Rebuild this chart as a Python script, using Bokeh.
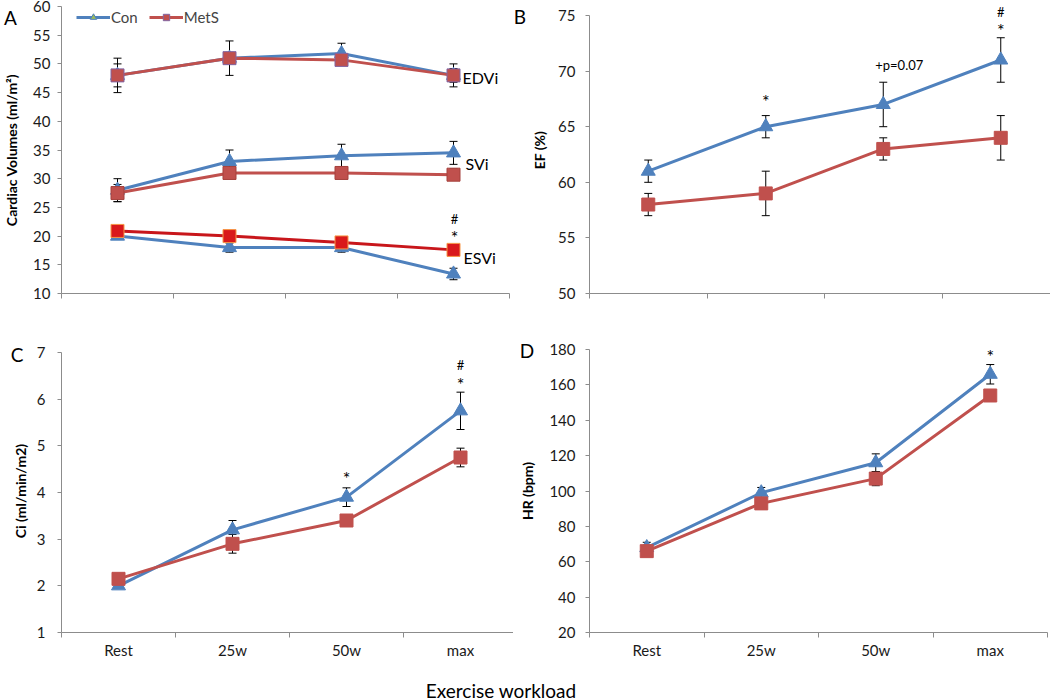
import numpy as np
from bokeh.plotting import figure
from bokeh.models import (ColumnDataSource, Whisker, Label, Legend, LegendItem,
                          FixedTicker, Range1d, TeeHead, GridBox, Spacer, Div)
from bokeh.embed import file_html
from bokeh.resources import INLINE

# ---------------- data ----------------
categories = ["Rest", "25w", "50w", "max"]

edvi_con = [48.0, 51.0, 51.8, 48.0]
edvi_con_err = [3.0, 3.0, 1.8, 2.0]
edvi_mets = [48.0, 51.0, 50.7, 48.0]
edvi_mets_err = [2.0, 1.0, 0.6, 1.2]

svi_con = [28.0, 33.0, 34.0, 34.5]
svi_con_err = [2.0, 2.0, 2.0, 2.0]
svi_mets = [27.5, 31.0, 31.0, 30.7]
svi_mets_err = [1.5, 1.0, 1.0, 1.0]

esvi_con = [20.0, 18.0, 18.0, 13.4]
esvi_con_err = [0.5, 0.8, 0.8, 1.0]
esvi_mets = [20.9, 20.0, 18.9, 17.6]
esvi_mets_err = [0.9, 0.9, 0.9, 0.9]

ef_con = [61.0, 65.0, 67.0, 71.0]
ef_con_err = [1.0, 1.0, 2.0, 2.0]
ef_mets = [58.0, 59.0, 63.0, 64.0]
ef_mets_err = [1.0, 2.0, 1.0, 2.0]

ci_con = [2.0, 3.2, 3.9, 5.75]
ci_con_err = [0.05, 0.2, 0.2, 0.4]
ci_mets = [2.15, 2.9, 3.4, 4.75]
ci_mets_err = [0.05, 0.2, 0.05, 0.2]

hr_con = [68.0, 99.0, 116.0, 166.0]
hr_con_err = [3.0, 3.0, 5.0, 5.5]
hr_mets = [66.0, 93.0, 107.0, 154.0]
hr_mets_err = [1.0, 1.0, 4.0, 1.0]

panel_letters = ["A", "B", "C", "D"]
x_title = "Exercise workload"

# ---------------- style ----------------
BLUE = "#4F81BD"
RED = "#C0504D"
AXIS = "#8C8C8C"
FONT = "Lato"

xs = [i + 0.5 for i in range(len(categories))]
bounds = list(range(len(categories) + 1))


def make_fig(bl, br, bt, bb, fw, fh, yr, ybounds, yticks, ylabel, show_x, ystand, ylstand):
    p = figure(frame_width=fw, frame_height=fh, min_border_left=bl, min_border_right=br,
               min_border_top=bt, min_border_bottom=bb,
               x_range=Range1d(0, len(categories)), y_range=Range1d(*yr),
               toolbar_location=None, output_backend="svg")
    p.outline_line_color = None
    p.grid.visible = False
    p.background_fill_color = None
    p.border_fill_color = None
    xa = p.xaxis[0]
    if show_x:
        xa.ticker = FixedTicker(ticks=xs, minor_ticks=bounds)
        xa.major_label_overrides = {x: c for x, c in zip(xs, categories)}
    else:
        xa.ticker = FixedTicker(ticks=[], minor_ticks=bounds)
    xa.axis_line_color = AXIS
    xa.major_tick_in = 0
    xa.major_tick_out = 0
    xa.minor_tick_in = 0
    xa.minor_tick_out = 5
    xa.minor_tick_line_color = AXIS
    xa.major_label_text_font = FONT
    xa.major_label_text_font_size = "15px"
    xa.major_label_text_color = "#1a1a1a"
    xa.major_label_standoff = 3
    ya = p.yaxis[0]
    ya.bounds = ybounds
    ya.ticker = FixedTicker(ticks=yticks, minor_ticks=[])
    ya.axis_line_color = AXIS
    ya.major_tick_line_color = AXIS
    ya.major_tick_in = 0
    ya.major_tick_out = 4
    ya.minor_tick_out = 0
    ya.major_label_text_font = FONT
    ya.major_label_text_font_size = "15px"
    ya.major_label_text_color = "#1a1a1a"
    ya.major_label_standoff = ystand
    ya.axis_label = ylabel
    ya.axis_label_text_font = FONT
    ya.axis_label_text_font_style = "bold"
    ya.axis_label_text_font_size = "14px"
    ya.axis_label_text_color = "black"
    ya.axis_label_standoff = ylstand
    return p


def series(p, ys, err, line_color, marker, size, fill, mline):
    src = ColumnDataSource(dict(x=xs, y=ys,
                                upper=[v + e for v, e in zip(ys, err)],
                                lower=[v - e for v, e in zip(ys, err)]))
    w = Whisker(source=src, base="x", upper="upper", lower="lower",
                line_color="black", line_width=1, level="underlay",
                upper_head=TeeHead(size=8, line_color="black", line_width=1),
                lower_head=TeeHead(size=8, line_color="black", line_width=1))
    p.add_layout(w)
    p.line("x", "y", source=src, line_color=line_color, line_width=3)
    p.scatter("x", "y", source=src, marker=marker, size=size,
              fill_color=fill, line_color=mline, line_width=1)


def lab(p, text, x, y, xo, yo, size="18px", align="center"):
    p.add_layout(Label(x=x, y=y, x_offset=xo, y_offset=yo, text=text,
                       text_font=FONT, text_font_size=size, text_align=align,
                       text_baseline="middle", text_color="black"))


TRI = 14
SQ = 13

# ---------------- panel A ----------------
pa = make_fig(58, 7, 6, 27, 448, 287, (10, 60), (10, 60), list(range(10, 61, 5)),
              "Cardiac Volumes (ml/m\u00b2)", False, 7, 10)
series(pa, edvi_con, edvi_con_err, BLUE, "triangle", TRI, BLUE, BLUE)
series(pa, edvi_mets, edvi_mets_err, RED, "square", SQ, RED, "#8064A2")
series(pa, svi_con, svi_con_err, BLUE, "triangle", TRI, BLUE, BLUE)
series(pa, svi_mets, svi_mets_err, RED, "square", SQ, RED, "#A5403C")
series(pa, esvi_con, esvi_con_err, BLUE, "triangle", TRI, BLUE, BLUE)
series(pa, esvi_mets, esvi_mets_err, "#C8161B", "square", SQ, "#D9191B", "#F79646")

lab(pa, "EDVi", xs[-1], edvi_mets[-1], 9, -2, "16px", "left")
lab(pa, "SVi", xs[-1], (svi_con[-1] + svi_mets[-1]) / 2, 12, 0, "16px", "left")
lab(pa, "ESVi", xs[-1], (esvi_con[-1] + esvi_mets[-1]) / 2, 10, 4, "16px", "left")
lab(pa, "*", xs[-1], esvi_mets[-1] + esvi_mets_err[-1], 1, 8)
lab(pa, "#", xs[-1], esvi_mets[-1] + esvi_mets_err[-1], 1, 26, "13px")

nan_a = ColumnDataSource(dict(x=np.array([np.nan]), y=np.array([np.nan])))
nan_b = ColumnDataSource(dict(x=np.array([np.nan]), y=np.array([np.nan])))
lc = pa.line("x", "y", source=nan_a, line_color=BLUE, line_width=3)
mc = pa.scatter("x", "y", source=nan_a, marker="triangle", size=13,
                fill_color="#9BBB59", line_color=BLUE)
lm = pa.line("x", "y", source=nan_b, line_color=RED, line_width=3)
mm = pa.scatter("x", "y", source=nan_b, marker="square", size=12,
                fill_color=RED, line_color="#8064A2")
legend = Legend(items=[LegendItem(label="Con", renderers=[lc, mc]),
                       LegendItem(label="MetS", renderers=[lm, mm])],
                orientation="horizontal", location=(15, 267),
                border_line_color=None, background_fill_alpha=0,
                label_text_font=FONT, label_text_font_size="15px",
                glyph_width=34, glyph_height=16, label_height=16,
                padding=0, margin=0, spacing=11, label_standoff=1)
pa.add_layout(legend)

# ---------------- panel B ----------------
b_top = 75 + 9 / (278 / 25)
pb = make_fig(59, 6, 6, 27, 470, 287, (50, b_top), (50, 75), list(range(50, 76, 5)),
              "EF (%)", False, 10, 7)
series(pb, ef_con, ef_con_err, BLUE, "triangle", TRI, BLUE, BLUE)
series(pb, ef_mets, ef_mets_err, RED, "square", SQ, RED, RED)
lab(pb, "*", xs[1], ef_con[1] + ef_con_err[1], 0, 15)
lab(pb, "+p=0.07", xs[2], ef_con[2] + ef_con_err[2], 16, 17, "13px")
lab(pb, "*", xs[3], ef_con[3] + ef_con_err[3], 0, 8)
lab(pb, "#", xs[3], ef_con[3] + ef_con_err[3], 0, 26, "13px")

# ---------------- panel C ----------------
c_top = 7 + 3 / (280 / 6)
pc = make_fig(55, 2, 29, 40, 456, 283, (1, c_top), (1, 7), list(range(1, 8)),
              "Ci (ml/min/m2)", True, 12, 5)
series(pc, ci_con, ci_con_err, BLUE, "triangle", TRI, BLUE, BLUE)
series(pc, ci_mets, ci_mets_err, RED, "square", SQ, RED, RED)
lab(pc, "*", xs[2], ci_con[2] + ci_con_err[2], 0, 10)
lab(pc, "*", xs[3], ci_con[3] + ci_con_err[3], 0, 8)
lab(pc, "#", xs[3], ci_con[3] + ci_con_err[3], 0, 27, "13px")

# ---------------- panel D ----------------
pd_ = make_fig(66, 11, 29, 40, 458, 283, (20, 180), (20, 180), list(range(20, 181, 20)),
               "HR (bpm)", True, 10, 10)
series(pd_, hr_con, hr_con_err, BLUE, "triangle", TRI, BLUE, BLUE)
series(pd_, hr_mets, hr_mets_err, RED, "square", SQ, RED, RED)
lab(pd_, "*", xs[3], hr_con[3] + hr_con_err[3], 0, 9)

# ---------------- panel letters and common x title (HTML overlay) ----------------
W, H = 1048, 698
letter_pos = [(10.5, 17), (520, 16), (17, 354), (527, 350)]


def span(text, cx, cy, size):
    return ('<span style="position:absolute;left:%.1fpx;top:%.1fpx;'
            'transform:translate(-50%%,-50%%);font-family:Lato;font-size:%dpx;'
            'line-height:1;color:black;white-space:nowrap;">%s</span>'
            % (cx, cy, size, text))


html = '<div style="position:relative;width:%dpx;height:%dpx;z-index:10;">' % (W, H)
for t, (cx, cy) in zip(panel_letters, letter_pos):
    html += span(t, cx, cy, 19)
html += span(x_title, 501, 690, 19)
html += "</div>"
overlay = Div(text=html, width=W, height=H, margin=0)

spacer = Spacer(width=W, height=H - 320 - 352, margin=0)

layout = GridBox(children=[(pa, 0, 0), (pb, 0, 1), (pc, 1, 0), (pd_, 1, 1),
                           (spacer, 2, 0, 1, 2), (overlay, 0, 0, 3, 2)], spacing=0)
open("out.html", "w").write(file_html(layout, INLINE))
